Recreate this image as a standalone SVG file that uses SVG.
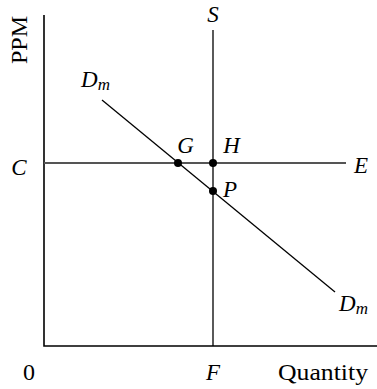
<svg xmlns="http://www.w3.org/2000/svg" width="377" height="389" viewBox="0 0 377 389">
<style>
.t{font-family:'Liberation Serif',serif;font-size:23px;fill:#000}
.u{font-size:24px}
.i{font-style:italic}
.s{font-size:17px}
.ax{stroke:#000;stroke-width:1.6;fill:none}
.ln{stroke:#000;stroke-width:1.3;fill:none}
.gr{stroke:#555;stroke-width:2;fill:none}
.dot{fill:#000}
</style>
<rect width="377" height="389" fill="#fff"/>
<g id="connectors">
<polyline class="ax" points="44,15 44,346 377,346"/>
<line class="ln" x1="213" y1="30" x2="213" y2="346"/>
<line class="gr" x1="44" y1="163" x2="346" y2="163"/>
<line class="ln" x1="102" y1="100" x2="335" y2="292"/>
</g>
<g id="axis-y"><text class="t u" transform="translate(27,40) rotate(-90)" text-anchor="middle">PPM</text></g>
<g id="axis-x"><text class="t u" x="278" y="380" textLength="90" lengthAdjust="spacingAndGlyphs">Quantity</text></g>
<g id="origin"><text class="t u" x="29" y="380" text-anchor="middle">0</text></g>
<g id="F"><text class="t i" x="213" y="380" text-anchor="middle">F</text></g>
<g id="S"><text class="t i" x="213" y="22" text-anchor="middle">S</text></g>
<g id="C"><text class="t i" x="19" y="175" text-anchor="middle">C</text></g>
<g id="E"><text class="t i" x="361" y="173" text-anchor="middle">E</text></g>
<g id="Dm-top"><text class="t i" x="81" y="87">D<tspan class="s" dy="3">m</tspan></text></g>
<g id="Dm-bottom"><text class="t i" x="339" y="311">D<tspan class="s" dy="3">m</tspan></text></g>
<g id="G"><circle class="dot" cx="178" cy="163" r="4"/><text class="t i" x="185.5" y="153" text-anchor="middle">G</text></g>
<g id="H"><circle class="dot" cx="213" cy="163" r="4"/><text class="t i" x="231.5" y="153" text-anchor="middle">H</text></g>
<g id="P"><circle class="dot" cx="213" cy="191" r="4"/><text class="t i" x="230" y="197" text-anchor="middle">P</text></g>
</svg>
